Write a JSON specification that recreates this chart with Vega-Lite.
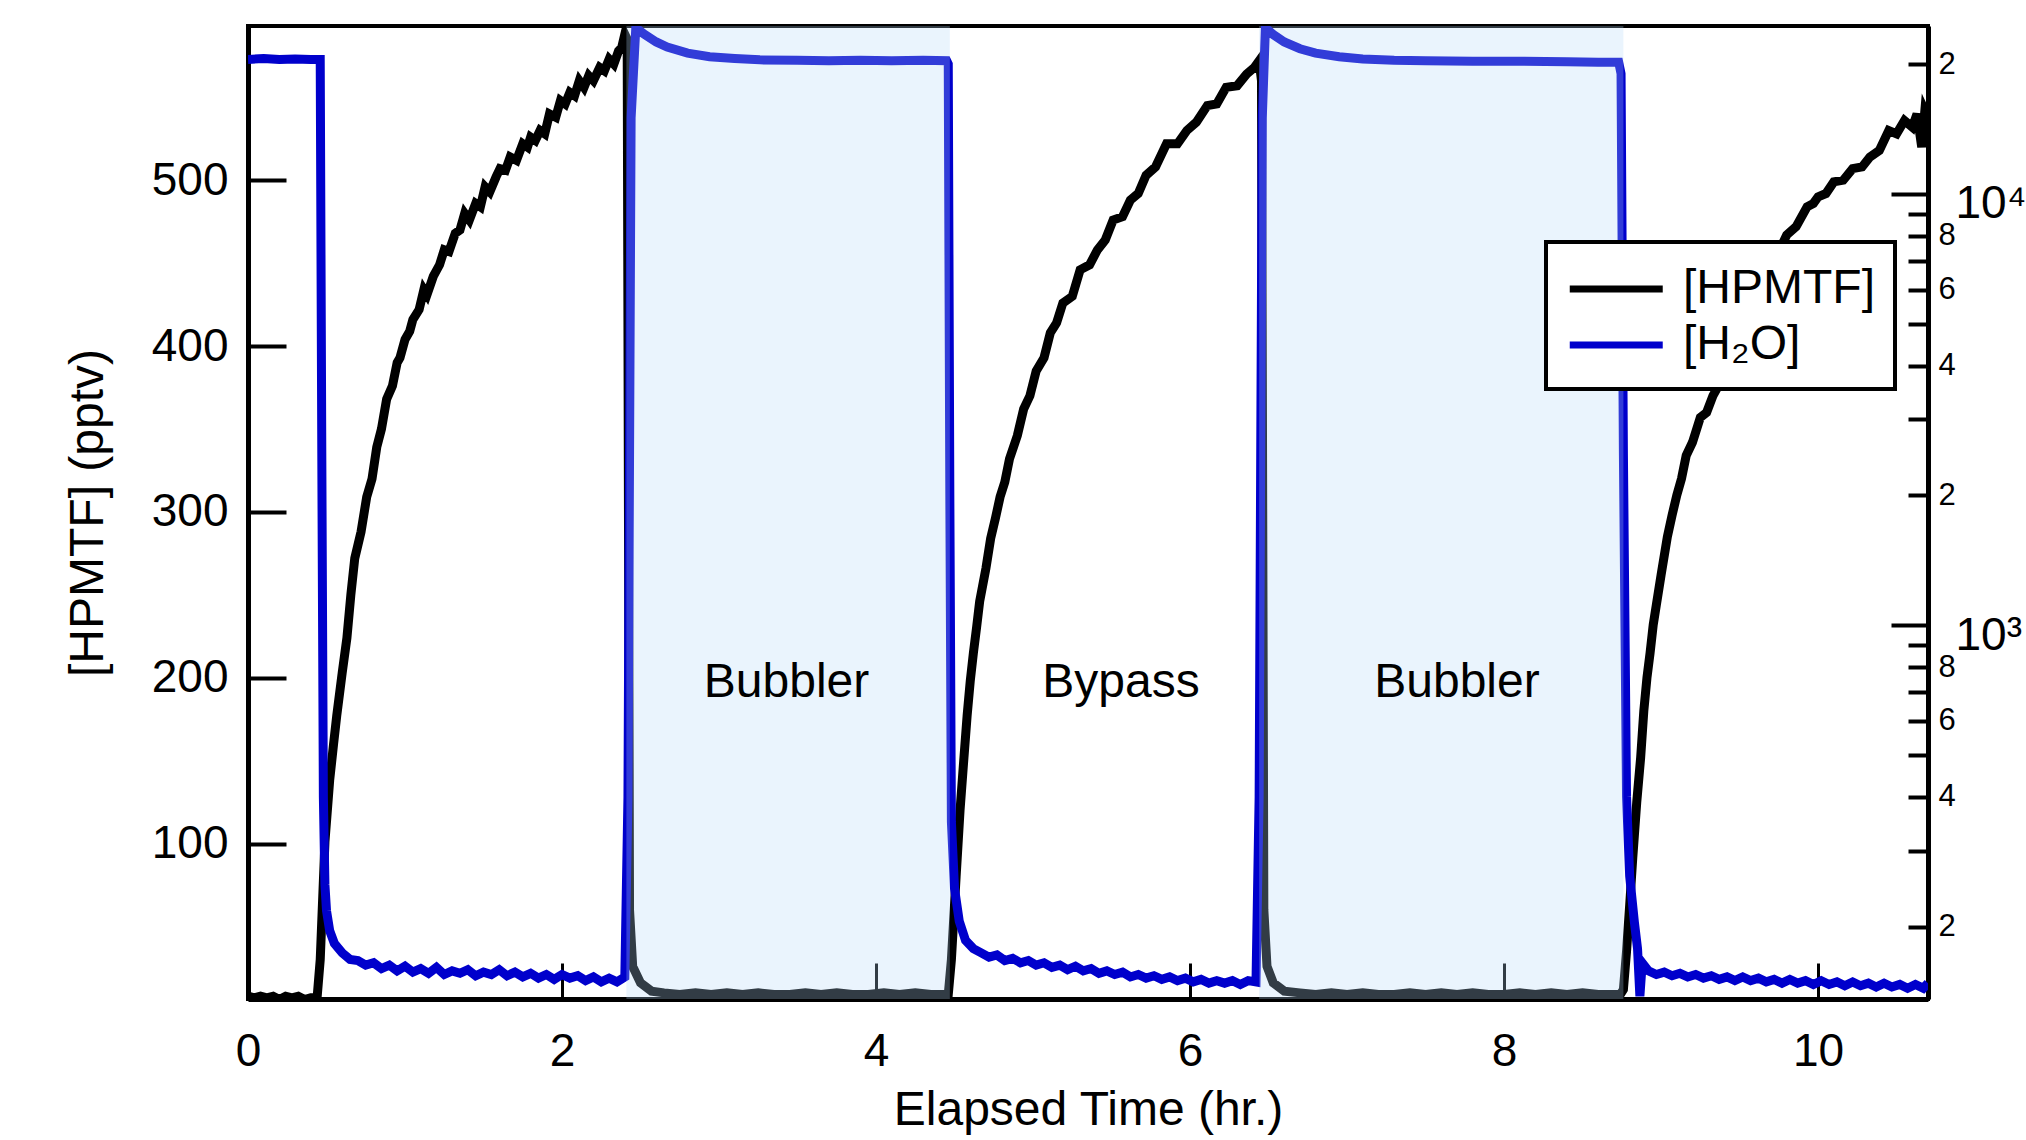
{
  "$schema": "https://vega.github.io/schema/vega-lite/v6.json",
  "width": 1680,
  "height": 973,
  "autosize": {"type": "none"},
  "padding": {"left": 248, "top": 26, "right": 98, "bottom": 141},
  "background": "white",
  "config": {
    "font": "Liberation Sans",
    "view": {"stroke": "black", "strokeWidth": 4},
    "axis": {"labelFont": "Liberation Sans", "titleFont": "Liberation Sans", "labelColor": "black", "titleColor": "black", "domainColor": "black", "tickColor": "black", "titleFontWeight": "normal", "grid": false, "labelFlush": false}
  },
  "datasets": {
    "hp": [
      {"t":0,"v":8},{"t":0.04,"v":7},{"t":0.08,"v":8},{"t":0.12,"v":7},{"t":0.16,"v":8},{"t":0.2,"v":6},{"t":0.24,"v":8},{"t":0.28,"v":7},{"t":0.32,"v":8},{"t":0.36,"v":6},{"t":0.4,"v":7},{"t":0.44,"v":7},
      {"t":0.46,"v":30},{"t":0.49,"v":101},{"t":0.52,"v":138},{"t":0.545,"v":160},{"t":0.565,"v":177},{"t":0.6,"v":203},{"t":0.63,"v":224},{"t":0.655,"v":250},{"t":0.68,"v":272},{"t":0.72,"v":288},{"t":0.756,"v":309},{"t":0.79,"v":320},{"t":0.82,"v":339},{"t":0.85,"v":350},{"t":0.883,"v":368},{"t":0.92,"v":376},{"t":0.95,"v":390},{"t":0.968,"v":393},{"t":1.0,"v":404},{"t":1.03,"v":409},{"t":1.05,"v":416},{"t":1.09,"v":422},{"t":1.12,"v":434},{"t":1.14,"v":431},{"t":1.18,"v":442},{"t":1.22,"v":449},{"t":1.25,"v":458},{"t":1.28,"v":457},{"t":1.32,"v":468},{"t":1.35,"v":470},{"t":1.38,"v":480},{"t":1.41,"v":476},{"t":1.45,"v":486},{"t":1.48,"v":484},{"t":1.51,"v":496},{"t":1.54,"v":493},{"t":1.58,"v":502},{"t":1.605,"v":507},{"t":1.64,"v":506},{"t":1.67,"v":514},{"t":1.71,"v":512},{"t":1.75,"v":522},{"t":1.78,"v":520},{"t":1.8,"v":526},{"t":1.83,"v":524},{"t":1.86,"v":530},{"t":1.89,"v":528},{"t":1.92,"v":540},{"t":1.96,"v":538},{"t":1.99,"v":548},{"t":2.02,"v":546},{"t":2.05,"v":553},{"t":2.08,"v":551},{"t":2.11,"v":560},{"t":2.14,"v":556},{"t":2.17,"v":563},{"t":2.2,"v":560},{"t":2.24,"v":568},{"t":2.27,"v":566},{"t":2.3,"v":573},{"t":2.33,"v":570},{"t":2.36,"v":578},{"t":2.38,"v":580},{"t":2.4,"v":588},
      {"t":2.415,"v":585},{"t":2.43,"v":60},{"t":2.45,"v":26},{"t":2.5,"v":16},{"t":2.57,"v":11},{"t":2.65,"v":10},{"t":2.75,"v":9},{"t":2.85,"v":10},{"t":2.95,"v":9},{"t":3.05,"v":10},{"t":3.15,"v":9},{"t":3.25,"v":10},{"t":3.35,"v":9},{"t":3.45,"v":9},{"t":3.55,"v":10},{"t":3.65,"v":9},{"t":3.75,"v":10},{"t":3.85,"v":9},{"t":3.95,"v":9},{"t":4.05,"v":10},{"t":4.15,"v":9},{"t":4.25,"v":10},{"t":4.35,"v":9},{"t":4.46,"v":9},
      {"t":4.48,"v":30},{"t":4.51,"v":80},{"t":4.535,"v":120},{"t":4.56,"v":152},{"t":4.58,"v":177},{"t":4.6,"v":198},{"t":4.62,"v":215},{"t":4.64,"v":230},{"t":4.66,"v":246},{"t":4.7,"v":266},{"t":4.73,"v":284},{"t":4.76,"v":296},{"t":4.79,"v":309},{"t":4.82,"v":318},{"t":4.85,"v":332},{"t":4.9,"v":346},{"t":4.94,"v":362},{"t":4.98,"v":370},{"t":5.02,"v":385},{"t":5.07,"v":393},{"t":5.11,"v":408},{"t":5.15,"v":414},{"t":5.19,"v":426},{"t":5.25,"v":430},{"t":5.3,"v":446},{"t":5.36,"v":449},{"t":5.41,"v":458},{"t":5.46,"v":464},{"t":5.51,"v":476},{"t":5.57,"v":478},{"t":5.62,"v":488},{"t":5.67,"v":492},{"t":5.72,"v":503},{"t":5.78,"v":508},{"t":5.85,"v":522},{"t":5.92,"v":522},{"t":5.98,"v":530},{"t":6.04,"v":535},{"t":6.11,"v":545},{"t":6.17,"v":546},{"t":6.23,"v":556},{"t":6.3,"v":557},{"t":6.36,"v":564},{"t":6.41,"v":568},{"t":6.44,"v":572},
      {"t":6.455,"v":560},{"t":6.47,"v":60},{"t":6.49,"v":26},{"t":6.53,"v":16},{"t":6.6,"v":11},{"t":6.7,"v":10},{"t":6.8,"v":9},{"t":6.9,"v":10},{"t":7.0,"v":9},{"t":7.1,"v":10},{"t":7.2,"v":9},{"t":7.3,"v":9},{"t":7.4,"v":10},{"t":7.5,"v":9},{"t":7.6,"v":10},{"t":7.7,"v":9},{"t":7.8,"v":10},{"t":7.9,"v":9},{"t":8.0,"v":9},{"t":8.1,"v":10},{"t":8.2,"v":9},{"t":8.3,"v":10},{"t":8.4,"v":9},{"t":8.5,"v":10},{"t":8.6,"v":9},{"t":8.74,"v":9},
      {"t":8.76,"v":12},{"t":8.78,"v":35},{"t":8.8,"v":63},{"t":8.82,"v":92},{"t":8.845,"v":125},{"t":8.87,"v":152},{"t":8.89,"v":180},{"t":8.91,"v":200},{"t":8.93,"v":215},{"t":8.95,"v":232},{"t":8.97,"v":244},{"t":9.0,"v":262},{"t":9.04,"v":285},{"t":9.07,"v":298},{"t":9.1,"v":310},{"t":9.13,"v":320},{"t":9.16,"v":334},{"t":9.2,"v":342},{"t":9.25,"v":357},{"t":9.29,"v":360},{"t":9.33,"v":370},{"t":9.4,"v":382},{"t":9.5,"v":402},{"t":9.6,"v":425},{"t":9.7,"v":447},{"t":9.8,"v":467},{"t":9.86,"v":472},{"t":9.93,"v":484},{"t":9.97,"v":486},{"t":10.0,"v":490},{"t":10.05,"v":492},{"t":10.1,"v":499},{"t":10.16,"v":500},{"t":10.22,"v":507},{"t":10.28,"v":508},{"t":10.33,"v":514},{"t":10.39,"v":518},{"t":10.45,"v":530},{"t":10.5,"v":528},{"t":10.55,"v":536},{"t":10.6,"v":532},{"t":10.63,"v":540},{"t":10.66,"v":520},{"t":10.68,"v":542},{"t":10.7,"v":538}
    ],
    "w": [
      {"t":0,"v":20500},{"t":0.1,"v":20600},{"t":0.2,"v":20500},{"t":0.3,"v":20550},{"t":0.4,"v":20500},{"t":0.46,"v":20500},{"t":0.47,"v":2500},{"t":0.48,"v":400},{"t":0.49,"v":250},{"t":0.5,"v":218},{"t":0.52,"v":196},{"t":0.55,"v":183},{"t":0.6,"v":174},{"t":0.65,"v":168},{"t":0.7,"v":167},{"t":0.75,"v":163},{"t":0.8,"v":165},{"t":0.85,"v":160},{"t":0.9,"v":163},{"t":0.95,"v":158},{"t":1.0,"v":162},{"t":1.05,"v":157},{"t":1.1,"v":160},{"t":1.15,"v":156},{"t":1.2,"v":161},{"t":1.25,"v":155},{"t":1.3,"v":158},{"t":1.35,"v":156},{"t":1.4,"v":159},{"t":1.45,"v":154},{"t":1.5,"v":157},{"t":1.55,"v":155},{"t":1.6,"v":159},{"t":1.65,"v":154},{"t":1.7,"v":157},{"t":1.75,"v":153},{"t":1.8,"v":156},{"t":1.85,"v":152},{"t":1.9,"v":155},{"t":1.95,"v":151},{"t":2.0,"v":155},{"t":2.05,"v":152},{"t":2.1,"v":154},{"t":2.15,"v":150},{"t":2.2,"v":153},{"t":2.25,"v":149},{"t":2.3,"v":152},{"t":2.35,"v":149},{"t":2.4,"v":153},
      {"t":2.42,"v":400},{"t":2.44,"v":15000},{"t":2.47,"v":24300},{"t":2.52,"v":23500},{"t":2.6,"v":22500},{"t":2.67,"v":21900},{"t":2.8,"v":21200},{"t":2.94,"v":20800},{"t":3.1,"v":20600},{"t":3.26,"v":20450},{"t":3.5,"v":20400},{"t":3.7,"v":20350},{"t":3.9,"v":20400},{"t":4.1,"v":20350},{"t":4.3,"v":20400},{"t":4.45,"v":20350},
      {"t":4.46,"v":20000},{"t":4.47,"v":2000},{"t":4.48,"v":350},{"t":4.5,"v":245},{"t":4.53,"v":206},{"t":4.57,"v":186},{"t":4.62,"v":178},{"t":4.67,"v":174},{"t":4.72,"v":170},{"t":4.77,"v":172},{"t":4.82,"v":167},{"t":4.87,"v":169},{"t":4.92,"v":165},{"t":4.97,"v":167},{"t":5.02,"v":163},{"t":5.07,"v":165},{"t":5.12,"v":161},{"t":5.17,"v":163},{"t":5.22,"v":159},{"t":5.27,"v":162},{"t":5.32,"v":158},{"t":5.37,"v":160},{"t":5.42,"v":156},{"t":5.47,"v":158},{"t":5.52,"v":155},{"t":5.57,"v":157},{"t":5.62,"v":153},{"t":5.67,"v":155},{"t":5.72,"v":152},{"t":5.77,"v":154},{"t":5.82,"v":151},{"t":5.87,"v":153},{"t":5.92,"v":150},{"t":5.97,"v":152},{"t":6.02,"v":149},{"t":6.07,"v":151},{"t":6.12,"v":148},{"t":6.17,"v":150},{"t":6.22,"v":148},{"t":6.27,"v":150},{"t":6.32,"v":147},{"t":6.37,"v":150},{"t":6.42,"v":149},
      {"t":6.44,"v":400},{"t":6.46,"v":15000},{"t":6.48,"v":24300},{"t":6.53,"v":23400},{"t":6.6,"v":22500},{"t":6.7,"v":21700},{"t":6.8,"v":21200},{"t":6.95,"v":20800},{"t":7.1,"v":20550},{"t":7.3,"v":20400},{"t":7.5,"v":20350},{"t":7.8,"v":20300},{"t":8.1,"v":20300},{"t":8.4,"v":20250},{"t":8.6,"v":20200},{"t":8.73,"v":20200},
      {"t":8.745,"v":19000},{"t":8.76,"v":2500},{"t":8.78,"v":400},{"t":8.8,"v":262},{"t":8.83,"v":205},{"t":8.85,"v":178},{"t":8.865,"v":138},{"t":8.88,"v":165},{"t":8.92,"v":158},{"t":8.97,"v":155},{"t":9.02,"v":157},{"t":9.07,"v":154},{"t":9.12,"v":156},{"t":9.17,"v":153},{"t":9.22,"v":155},{"t":9.27,"v":152},{"t":9.32,"v":154},{"t":9.37,"v":151},{"t":9.42,"v":153},{"t":9.47,"v":150},{"t":9.52,"v":153},{"t":9.57,"v":150},{"t":9.62,"v":152},{"t":9.67,"v":149},{"t":9.72,"v":151},{"t":9.77,"v":148},{"t":9.82,"v":151},{"t":9.87,"v":148},{"t":9.92,"v":150},{"t":9.97,"v":147},{"t":10.02,"v":150},{"t":10.07,"v":147},{"t":10.12,"v":149},{"t":10.17,"v":146},{"t":10.22,"v":149},{"t":10.27,"v":146},{"t":10.32,"v":148},{"t":10.37,"v":145},{"t":10.42,"v":148},{"t":10.47,"v":145},{"t":10.52,"v":147},{"t":10.57,"v":144},{"t":10.62,"v":147},{"t":10.67,"v":144},{"t":10.7,"v":148}
    ],
    "shade": [{"t":2.41,"t2":4.47},{"t":6.44,"t2":8.76}],
    "labs": [{"t":3.43,"y":197,"s":"Bubbler"},{"t":5.56,"y":197,"s":"Bypass"},{"t":7.7,"y":197,"s":"Bubbler"}]
  },
  "layer": [
    {
      "data": {"name": "hp"},
      "mark": {"type": "line", "strokeWidth": 9, "clip": true},
      "encoding": {
        "x": {"field": "t", "type": "quantitative", "scale": {"domain": [0, 10.7], "nice": false, "zero": false},
          "axis": {"title": "Elapsed Time (hr.)", "values": [0,2,4,6,8,10], "format": "d", "tickSize": -36, "tickWidth": 3, "domainWidth": 5, "labelFontSize": 46, "labelPadding": 66, "titleFontSize": 48, "titlePadding": 12, "labelOverlap": false}},
        "y": {"field": "v", "type": "quantitative", "scale": {"domain": [6.3, 593], "nice": false, "zero": false},
          "axis": {"orient": "left", "title": "[HPMTF] (pptv)", "values": [100,200,300,400,500], "tickSize": -38, "tickWidth": 4, "domainWidth": 5, "labelFontSize": 46, "labelPadding": 58, "titleFontSize": 48, "titlePadding": 39}},
        "color": {"datum": "[HPMTF]", "type": "nominal",
          "scale": {"domain": ["[HPMTF]", "[H₂O]"], "range": ["#000000", "#0000CC"]},
          "legend": {"title": null, "orient": "none", "legendX": 1298, "legendY": 216, "symbolType": "M-1,0H3", "symbolSize": 2162, "symbolStrokeWidth": 7, "symbolFillColor": "transparent", "labelFontSize": 48, "labelFont": "Liberation Sans", "labelColor": "black", "labelLimit": 400, "labelOffset": 63, "padding": 20, "rowPadding": 5, "strokeColor": "black", "fillColor": "white",
            "encode": {"legend": {"update": {"strokeWidth": {"value": 4}}}}}}
      }
    },
    {
      "data": {"name": "w"},
      "mark": {"type": "line", "strokeWidth": 9, "clip": true},
      "encoding": {
        "x": {"field": "t", "type": "quantitative", "scale": {"domain": [0, 10.7], "nice": false, "zero": false}},
        "y": {"field": "v", "type": "quantitative", "scale": {"type": "log", "domain": [136, 24500], "nice": false},
          "axis": {"orient": "right", "title": null,
            "values": [200,300,400,500,600,700,800,900,1000,2000,3000,4000,5000,6000,7000,8000,9000,10000,20000],
            "labelExpr": "datum.value == 1000 ? '10³' : datum.value == 10000 ? '10⁴' : (indexof([200,400,600,800,2000,4000,6000,8000,20000], datum.value) >= 0 ? substring(toString(datum.value), 0, 1) : '')",
            "tickSize": {"condition": {"test": "datum.value == 1000 || datum.value == 10000", "value": -37}, "value": -20},
            "tickWidth": 4, "domainWidth": 5,
            "labelFontSize": {"condition": {"test": "datum.value == 1000 || datum.value == 10000", "value": 46}, "value": 31},
            "labelPadding": {"condition": {"test": "datum.value == 1000 || datum.value == 10000", "value": 64}, "value": 30},
            "labelOffset": {"condition": {"test": "datum.value == 1000 || datum.value == 10000", "value": 10}, "value": 0},
            "labelOverlap": false, "labelBound": false}},
        "color": {"datum": "[H₂O]", "type": "nominal", "scale": {"domain": ["[HPMTF]", "[H₂O]"], "range": ["#000000", "#0000CC"]}}
      }
    },
    {
      "data": {"name": "shade"},
      "mark": {"type": "rect", "color": "#B4D8F8", "opacity": 0.28},
      "encoding": {
        "x": {"field": "t", "type": "quantitative", "scale": {"domain": [0, 10.7], "nice": false, "zero": false}},
        "x2": {"field": "t2"}
      }
    },
    {
      "data": {"name": "labs"},
      "mark": {"type": "text", "fontSize": 48, "font": "Liberation Sans", "color": "black", "align": "center", "baseline": "middle"},
      "encoding": {
        "x": {"field": "t", "type": "quantitative", "scale": {"domain": [0, 10.7], "nice": false, "zero": false}},
        "y": {"field": "y", "type": "quantitative", "scale": {"domain": [6.3, 593], "nice": false, "zero": false}, "axis": null},
        "text": {"field": "s"}
      }
    }
  ],
  "resolve": {"scale": {"y": "independent"}, "axis": {"y": "independent"}}
}
